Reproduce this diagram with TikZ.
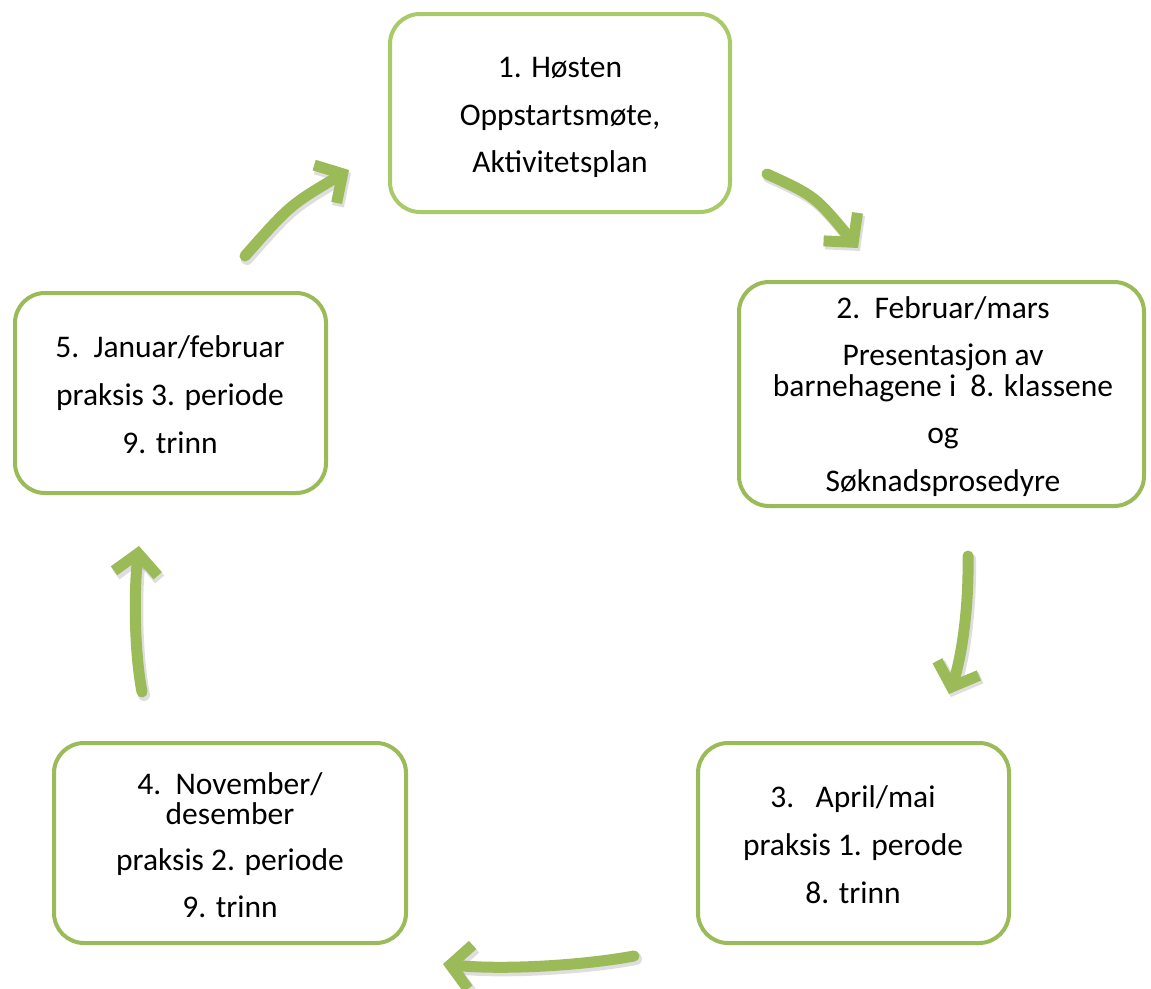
\documentclass[tikz,border=0pt]{standalone}
\usepackage{fontspec}
\setmainfont{Carlito}
\usetikzlibrary{arrows.meta}
\definecolor{boxgreen}{HTML}{9BBB59}
\definecolor{boxgreenlight}{HTML}{A8CA69}
\definecolor{arrgreen}{HTML}{9BBB59}
\begin{document}
\begin{tikzpicture}[x=1pt,y=-1pt,
  stagebox/.style={draw=boxgreen, line width=4pt, rounded corners=30pt, fill=white, inner sep=0pt},
  txt/.style={anchor=base, inner sep=0pt, font=\fontsize{31.5}{32}\selectfont, text=black},
  arr/.style={draw=arrgreen, line width=11pt, line cap=round, -{Straight Barb[length=20pt,width=44pt]}},
  arrsh/.style={draw=black, opacity=0.13, line width=12pt, line cap=round, -{Straight Barb[length=20pt,width=44pt]}, transform canvas={xshift=2pt,yshift=-3pt}}]
\useasboundingbox (0,0) rectangle (1151,988);
\fill[white] (0,0) rectangle (1151,988);

% boxes
\node[stagebox, draw=boxgreenlight, minimum width=340pt, minimum height=198pt] (n1) at (560,113) {};
\node[stagebox, minimum width=405pt, minimum height=224pt] (n2) at (941.5,394) {};
\node[stagebox, minimum width=311pt, minimum height=200pt] (n3) at (853.5,843) {};
\node[stagebox, minimum width=352pt, minimum height=200pt] (n4) at (230,843) {};
\node[stagebox, minimum width=311pt, minimum height=200pt] (n5) at (170.5,393) {};

% texts
\node[txt] (t1a) at (560,77) {1. Høsten};
\node[txt] (t1b) at (560,125) {Oppstartsmøte,};
\node[txt] (t1c) at (560,172) {Aktivitetsplan};

\node[txt] (t2a) at (943,318) {2.\ \ Februar/mars};
\node[txt] (t2b) at (943,365) {Presentasjon av};
\node[txt] (t2c) at (943,396) {barnehagene i\ \ 8. klassene};
\node[txt] (t2d) at (943,443) {og};
\node[txt] (t2e) at (943,491) {Søknadsprosedyre};

\node[txt] (t3a) at (853,807) {3.\ \ \ April/mai};
\node[txt] (t3b) at (853,855) {praksis 1. perode};
\node[txt] (t3c) at (853,903) {8. trinn};

\node[txt] (t4a) at (230,794) {4.\ \ November/};
\node[txt] (t4b) at (230,824) {desember};
\node[txt] (t4c) at (230,870) {praksis 2. periode};
\node[txt] (t4d) at (230,917) {9. trinn};

\node[txt] (t5a) at (170,357) {5.\ \ Januar/februar};
\node[txt] (t5b) at (170,405) {praksis 3. periode};
\node[txt] (t5c) at (170,453) {9. trinn};

% arrow end points
\coordinate (a1s) at (767,174);
\coordinate (a1e) at (858,248);
\coordinate (a2s) at (968,556);
\coordinate (a2e) at (949,694);
\coordinate (a3s) at (634,956);
\coordinate (a3e) at (443,964);
\coordinate (a4s) at (142,692);
\coordinate (a4e) at (139,546);
\coordinate (a5s) at (245,256);
\coordinate (a5e) at (349,170);

% shadows
\draw[arrsh] (a1s) .. controls (815,196) .. (a1e);
\draw[arrsh] (a2s) .. controls (969,610) and (961,660) .. (a2e);
\draw[arrsh] (a3s) .. controls (580,966) and (500,970) .. (a3e);
\draw[arrsh] (a4s) .. controls (134,650) and (134,590) .. (a4e);
\draw[arrsh] (a5s) .. controls (290,205) .. (a5e);

% arrows
\draw[arr] (a1s) .. controls (815,196) .. (a1e);
\draw[arr] (a2s) .. controls (969,610) and (961,660) .. (a2e);
\draw[arr] (a3s) .. controls (580,966) and (500,970) .. (a3e);
\draw[arr] (a4s) .. controls (134,650) and (134,590) .. (a4e);
\draw[arr] (a5s) .. controls (290,205) .. (a5e);
\end{tikzpicture}
\end{document}
